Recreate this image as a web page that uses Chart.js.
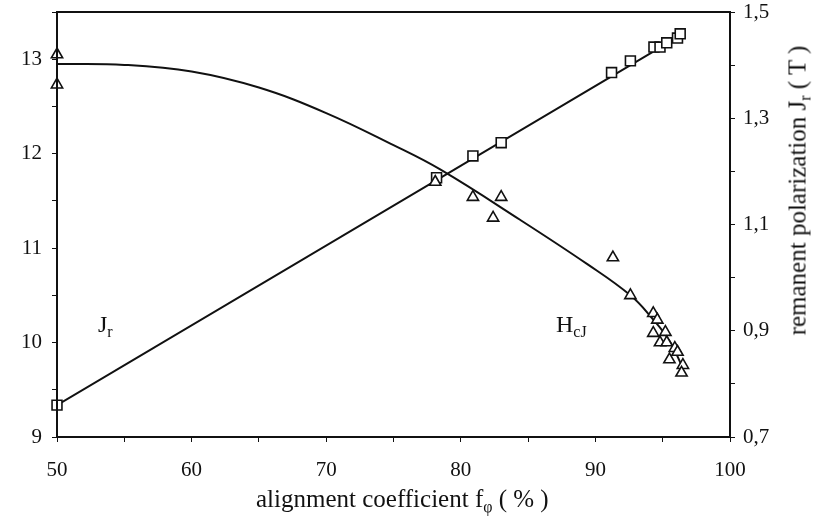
<!DOCTYPE html>
<html>
<head>
<meta charset="utf-8">
<script src="https://cdn.jsdelivr.net/npm/chart.js@4"></script>
<style>
  body { margin: 0; background: #fff; }
  #wrap { position: relative; width: 816px; height: 518px; font-family: "Liberation Serif", "DejaVu Serif", serif; color: #111; }
  #chart { position: absolute; left: 0; top: 0; }
  .lbl { position: absolute; font-size: 24px; white-space: nowrap; line-height: 1; }
  .lbl sub { font-size: 16px; vertical-align: -5px; line-height: 0; }
  .title { font-size: 25px; }
  #ytitle { width: 360px; text-align: center; transform: rotate(-90deg); transform-origin: 50% 50%; }
</style>
</head>
<body>
<div id="wrap">
  <canvas id="chart" width="816" height="518"></canvas>
  <div class="lbl" style="left:98px;top:312px">J<sub>r</sub></div>
  <div class="lbl" style="left:556px;top:312px">H<sub>cJ</sub></div>
  <div class="lbl title" style="left:256px;top:486px">alignment coefficient f<sub>φ</sub> ( % )</div>
  <div class="lbl title" id="ytitle" style="left:617px;top:178px">remanent polarization J<sub>r</sub> ( T )</div>
</div>
<script>
// 测量点 H_cJ（三角形，左轴）
const hcjX = [50, 50, 78.1, 80.9, 82.4, 83.0, 91.3, 92.6, 94.3, 94.6, 94.3, 95.2, 94.8, 95.3, 95.9, 96.1, 95.5, 96.5, 96.4];
const hcjY = [13.05, 12.73, 11.70, 11.54, 11.32, 11.54, 10.90, 10.50, 10.31, 10.24, 10.10, 10.11, 10.00, 10.00, 9.94, 9.90, 9.82, 9.76, 9.68];

// 拟合曲线 H_cJ
const hcjFitX = [50, 55, 60, 65, 70, 75, 78.5, 84.4, 89.4, 92.6, 94.2, 95.5, 96.5];
const hcjFitY = [12.95, 12.94, 12.87, 12.70, 12.43, 12.09, 11.83, 11.30, 10.83, 10.50, 10.26, 10.02, 9.73];

// 测量点 J_r（方块，右轴）
const jrX = [50, 78.2, 80.9, 83.0, 91.2, 92.6, 94.35, 94.8, 95.3, 96.1, 96.3];
const jrY = [0.76, 1.188, 1.229, 1.254, 1.386, 1.408, 1.434, 1.434, 1.442, 1.451, 1.459];

// 拟合直线 J_r
const jrFitX = [50, 96.4];
const jrFitY = [0.76, 1.457];

// 坐标轴标签
const xLabels = [50, 60, 70, 80, 90, 100];
const leftLabels = [9, 10, 11, 12, 13];
const rightLabels = [0.7, 0.9, 1.1, 1.3, 1.5];

const toPoints = (xs, ys) => xs.map((x, i) => ({ x, y: ys[i] }));
const hasLabel = (list, v) => list.some(t => Math.abs(t - v) < 1e-6);

const INK = '#111';
const tickFont = { family: '"Liberation Serif", serif', size: 21 };

// 固定纵轴尺寸，绘图区上边 12px
const fitVertical = width => s => {
  s.width = width;
  s.paddingTop = 12;
  s.paddingBottom = 0;
};

// 画图框（上边框）
const framePlugin = {
  id: 'frame',
  afterDraw(chart) {
    const { ctx, chartArea: a } = chart;
    ctx.save();
    ctx.strokeStyle = INK;
    ctx.lineWidth = 2;
    ctx.strokeRect(a.left, a.top, a.right - a.left, a.bottom - a.top);
    ctx.restore();
  }
};

new Chart(document.getElementById('chart'), {
  type: 'scatter',
  data: {
    datasets: [
      {
        label: 'HcJ',
        data: toPoints(hcjX, hcjY),
        yAxisID: 'y',
        clip: false,
        pointStyle: 'triangle',
        pointRadius: 6.5,
        pointBorderWidth: 1.6,
        borderColor: INK,
        backgroundColor: '#fff'
      },
      {
        label: 'Jr',
        data: toPoints(jrX, jrY),
        yAxisID: 'y1',
        clip: false,
        pointStyle: 'rect',
        pointRadius: 7,
        pointBorderWidth: 1.6,
        borderColor: INK,
        backgroundColor: '#fff'
      },
      {
        label: 'HcJ fit',
        data: toPoints(hcjFitX, hcjFitY),
        yAxisID: 'y',
        showLine: true,
        pointRadius: 0,
        borderColor: INK,
        borderWidth: 2,
        tension: 0.4
      },
      {
        label: 'Jr fit',
        data: toPoints(jrFitX, jrFitY),
        yAxisID: 'y1',
        showLine: true,
        pointRadius: 0,
        borderColor: INK,
        borderWidth: 2
      }
    ]
  },
  options: {
    responsive: false,
    animation: false,
    devicePixelRatio: 1,
    layout: { padding: 0 },
    plugins: {
      legend: { display: false },
      tooltip: { enabled: false }
    },
    scales: {
      x: {
        type: 'linear',
        min: 50,
        max: 100,
        ticks: {
          stepSize: 5,
          color: INK,
          font: tickFont,
          padding: 16,
          maxRotation: 0,
          callback: v => hasLabel(xLabels, v) ? v : ''
        },
        grid: { drawOnChartArea: false, color: INK, tickLength: 5 },
        border: { color: INK, width: 2 },
        afterFit: s => { s.height = 81; }
      },
      y: {
        position: 'left',
        min: 9,
        max: 13.5,
        ticks: {
          stepSize: 0.5,
          color: INK,
          font: tickFont,
          padding: 10,
          callback: v => hasLabel(leftLabels, v) ? v : ''
        },
        grid: { drawOnChartArea: false, color: INK, tickLength: 5 },
        border: { color: INK, width: 2 },
        afterFit: fitVertical(57)
      },
      y1: {
        position: 'right',
        min: 0.7,
        max: 1.5,
        ticks: {
          stepSize: 0.1,
          color: INK,
          font: tickFont,
          padding: 8,
          callback: v => hasLabel(rightLabels, v) ? v.toFixed(1).replace('.', ',') : ''
        },
        grid: { drawOnChartArea: false, color: INK, tickLength: 5 },
        border: { color: INK, width: 2 },
        afterFit: fitVertical(86)
      }
    }
  },
  plugins: [framePlugin]
});
</script>
</body>
</html>
